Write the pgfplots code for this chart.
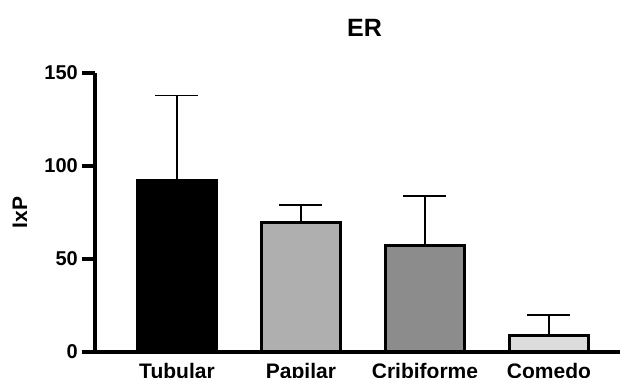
\documentclass[border=0pt]{standalone}
\usepackage{pgfplots}
\pgfplotsset{compat=1.18}
\usepackage{fontspec}
\setmainfont{Liberation Sans}
\definecolor{papilar}{RGB}{175,175,175}
\definecolor{cribi}{RGB}{140,140,140}
\definecolor{comedo}{RGB}{220,220,220}
\begin{document}
\begin{tikzpicture}
\begin{axis}[
  at={(95bp,26bp)}, anchor=south west,
  scale only axis, width=525bp, height=279bp,
  xmin=-0.661, xmax=3.573, ymin=0, ymax=150,
  axis x line=bottom, axis y line=left,
  axis line style={-, line width=4bp},
  ytick={0,50,100,150},
  xtick={0,1,2,3},
  xticklabels={Tubular,Papilar,Cribiforme,Comedo},
  x tick style={draw=none},
  y tick style={line width=4bp, black},
  tick align=outside, major tick length=13bp,
  /pgf/number format/assume math mode=true,
  yticklabel style={font=\fontsize{20bp}{22bp}\selectfont\bfseries, inner sep=0bp, xshift=-4bp},
  xticklabel style={font=\fontsize{21bp}{23bp}\selectfont\bfseries, inner sep=0bp, yshift=1.5bp},
  title={ER},
  title style={font=\fontsize{25bp}{28bp}\selectfont\bfseries, at={(0.5,1)}, anchor=base, yshift=31bp, xshift=7bp},
  ylabel={IxP},
  ylabel style={font=\fontsize{21bp}{23bp}\selectfont\bfseries, at={(axis description cs:-0.143,0.5)}, anchor=center},
  ybar, bar width=79bp, bar shift=0pt,
  clip=false,
  error bars/y dir=plus, error bars/y explicit,
  error bars/error bar style={line width=1.3bp, black},
  error bars/error mark options={rotate=90, mark size=21.5bp, line width=1.3bp, black},
]
\addplot[draw=black, line width=3bp, fill=black] coordinates {(0,92) +- (0,46)};
\addplot[draw=black, line width=3bp, fill=papilar] coordinates {(1,69.4) +- (0,9.6)};
\addplot[draw=black, line width=3bp, fill=cribi] coordinates {(2,57.5) +- (0,26.4)};
\addplot[draw=black, line width=3bp, fill=comedo] coordinates {(3,9.1) +- (0,10.8)};
\end{axis}
\pgfresetboundingbox
\path[use as bounding box] (0,0) rectangle (624bp,378bp);
\end{tikzpicture}
\end{document}
